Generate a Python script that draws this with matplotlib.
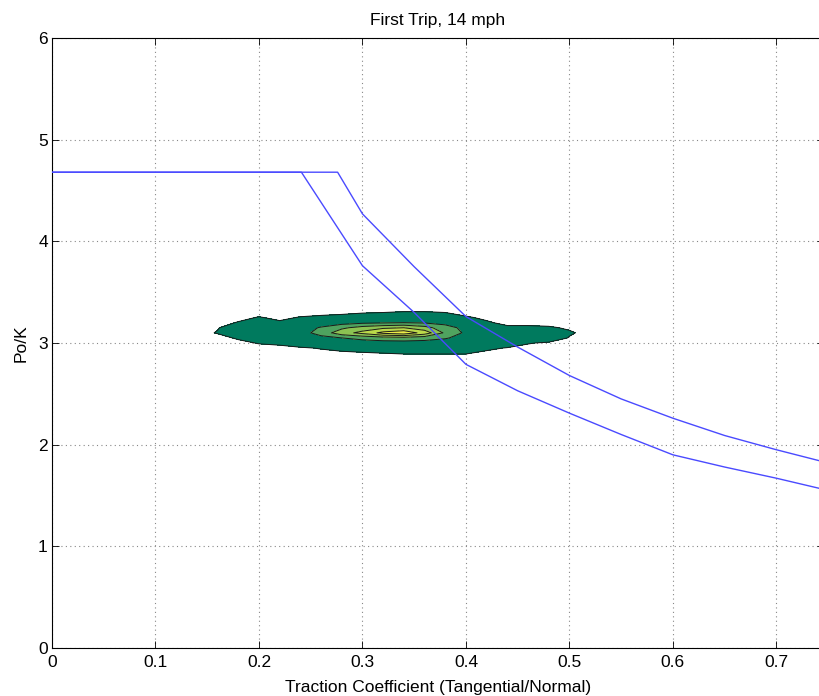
import numpy as np
import matplotlib
matplotlib.use("Agg")
import matplotlib.pyplot as plt

plt.rcParams['font.family'] = ['Liberation Sans', 'DejaVu Sans']

# Boundary curves (Po/K vs traction coefficient)
upper_x = [0.0, 0.276, 0.30, 0.35, 0.40, 0.45, 0.50, 0.55, 0.60, 0.65, 0.70, 0.75]
upper_y = [4.68, 4.68, 4.27, 3.75, 3.26, 2.96, 2.68, 2.45, 2.26, 2.09, 1.95, 1.82]
lower_x = [0.0, 0.241, 0.30, 0.35, 0.40, 0.45, 0.50, 0.55, 0.60, 0.65, 0.70, 0.75]
lower_y = [4.68, 4.68, 3.76, 3.30, 2.79, 2.53, 2.31, 2.10, 1.90, 1.78, 1.67, 1.55]

# Density grid of measured points (estimated from the contour picture)
grid_x = [0.14, 0.16, 0.18, 0.20, 0.22, 0.24, 0.26, 0.28, 0.30, 0.32,
          0.34, 0.36, 0.38, 0.40, 0.42, 0.44, 0.46, 0.48, 0.50, 0.52]
grid_y = [2.85, 2.90, 2.95, 3.00, 3.05, 3.10, 3.15, 3.20, 3.25, 3.30, 3.35]
# columns correspond to grid_x, each list is values along grid_y
density_cols = [
    [0, 0, 0, 0, 0, 0, 0, 0, 0, 0, 0],
    [0, 0, 0, 0, 0, 0.6, 0.4, 0, 0, 0, 0],
    [0, 0, 0, 0.1, 0.7, 1.5, 1.5, 0.6, 0.1, 0, 0],
    [0, 0, 0, 0.6, 1.5, 2.5, 2.5, 1.5, 0.6, 0, 0],
    [0, 0, 0.1, 0.8, 2, 3, 3, 0.7, 0.2, 0, 0],
    [0, 0, 0.3, 1.5, 3, 6, 5, 2, 0.6, 0, 0],
    [0, 0.1, 0.6, 3, 7, 14, 11, 4, 0.8, 0.1, 0],
    [0, 0.2, 1, 4, 10, 26, 18, 6, 1, 0.2, 0],
    [0, 0.3, 1.5, 5, 13, 33, 24, 8, 2, 0.3, 0],
    [0, 0.5, 2, 6, 15, 43, 28, 9, 3, 0.5, 0],
    [0, 0.6, 2, 6, 16, 47, 30, 10, 3, 0.6, 0],
    [0, 0.6, 2, 6, 14, 36, 24, 9, 2.5, 0.6, 0],
    [0, 0.6, 2, 5, 11, 18, 14, 7, 2, 0.5, 0],
    [0, 0.6, 1.5, 4, 6, 8, 7, 4, 0.7, 0, 0],
    [0, 0.2, 0.8, 2, 4, 5, 4, 0.7, 0.2, 0, 0],
    [0, 0, 0.4, 1.5, 3, 3, 0.8, 0.1, 0, 0, 0],
    [0, 0, 0.1, 0.6, 2, 2, 0.8, 0.1, 0, 0, 0],
    [0, 0, 0, 0.3, 1.5, 1.5, 0.7, 0, 0, 0, 0],
    [0, 0, 0, 0, 0.4, 0.7, 0.3, 0, 0, 0, 0],
    [0, 0, 0, 0, 0, 0, 0, 0, 0, 0, 0],
]
levels = [0.5, 10, 20, 30, 40, 60]
fill_colors = ['#007a5e', '#4fa35f', '#8cc252', '#bcd94a', '#ecec46']

x_ticks = [0, 0.1, 0.2, 0.3, 0.4, 0.5, 0.6, 0.7]
y_ticks = [0, 1, 2, 3, 4, 5, 6]

fig = plt.figure(figsize=(8.19, 6.96), dpi=100)
ax = fig.add_axes([52/819, 1 - 648/696, (824 - 52)/819, (648 - 38)/696])

Z = np.array(density_cols).T
X, Y = np.meshgrid(grid_x, grid_y)
ax.contourf(X, Y, Z, levels=levels, colors=fill_colors, zorder=2)
ax.contour(X, Y, Z, levels=levels[:-1], colors='#1a1a1a', linewidths=0.7, zorder=3)

ax.plot(upper_x, upper_y, color='#4a4aff', lw=1.0, zorder=4)
ax.plot(lower_x, lower_y, color='#4a4aff', lw=1.0, zorder=4)

ax.set_xlim(0, 0.746)
ax.set_ylim(0, 6)
ax.set_xticks(x_ticks)
ax.set_xticklabels([f"{t:g}" for t in x_ticks])
ax.set_yticks(y_ticks)
ax.tick_params(axis='x', pad=5)
ax.tick_params(direction='in', top=True, right=True, labelsize=12.5, length=5, width=0.6)
ax.tick_params(axis='y', pad=3)
ax.grid(True, color='#888888', linestyle=(0, (1, 3)), linewidth=0.8, zorder=1)
ax.set_axisbelow(True)
for s in ax.spines.values():
    s.set_linewidth(0.8)
ax.spines['right'].set_visible(False)

ax.set_title('First Trip, 14 mph', fontsize=12.5, pad=9)
ax.set_xlabel('Traction Coefficient (Tangential/Normal)', fontsize=12.5, labelpad=7)
ax.set_ylabel('Po/K', fontsize=12.5, labelpad=7)

fig.savefig('out.png', dpi=100)
